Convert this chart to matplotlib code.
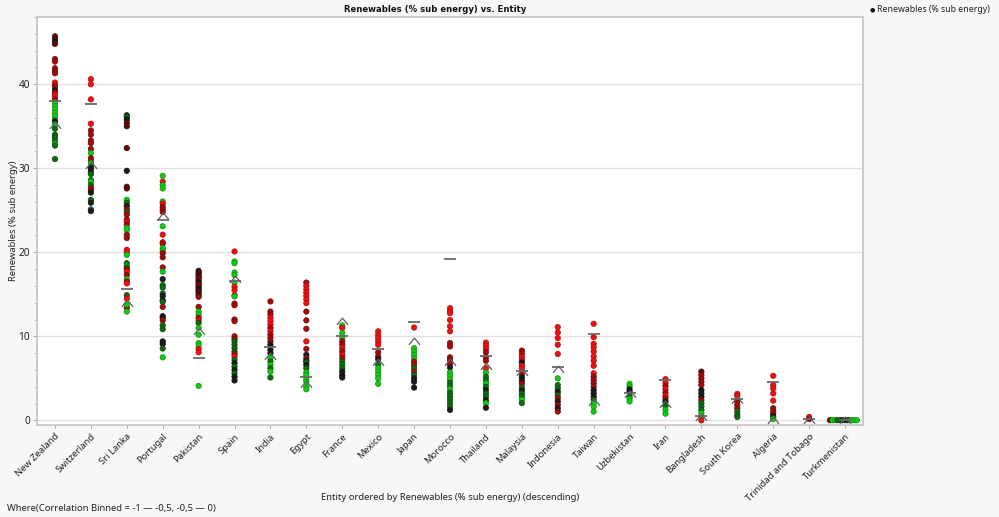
import numpy as np
import matplotlib
matplotlib.use("Agg")
import matplotlib.pyplot as plt
from matplotlib.path import Path
from matplotlib.ticker import MultipleLocator
from matplotlib.colors import to_rgb

plt.rcParams['font.family'] = ['Noto Sans', 'DejaVu Sans']

entities = ["New Zealand", "Switzerland", "Sri Lanka", "Portugal", "Pakistan", "Spain",
            "India", "Egypt", "France", "Mexico", "Japan", "Morocco", "Thailand",
            "Malaysia", "Indonesia", "Taiwan", "Uzbekistan", "Iran", "Bangladesh",
            "South Korea", "Algeria", "Trinidad and Tobago", "Turkmenistan"]

nz_vals = [45.7, 45.4, 45.1, 44.8, 43.0, 42.7, 41.9, 41.6, 41.3, 40.2, 39.9, 39.7, 39.3, 39.0,
           38.75, 38.5, 38.2, 37.8, 37.4, 37.0, 36.6, 36.2, 35.8, 35.6, 35.2, 34.7, 34.0, 33.8,
           33.6, 33.2, 32.9, 32.7, 31.1]
nz_cols = "ddkdrrrrrRRrkrRRrGGGGGGkGgggggGgg"
ch_vals = [40.6, 40.0, 38.2, 35.3, 34.5, 34.0, 33.3, 33.0, 32.3, 31.8, 31.2, 30.9, 30.6, 30.2,
           30.0, 29.6, 29.3, 28.6, 28.4, 28.0, 27.6, 27.3, 27.1, 26.25, 25.9, 25.1, 24.9]
ch_cols = "RRRRrrrrrGrrGgkkggGgrrkgkgk"
lk_vals = [36.3, 36.1, 35.8, 35.4, 35.0, 32.4, 29.7, 27.8, 27.6, 26.25, 25.9, 25.5, 25.1, 24.8,
           24.5, 23.9, 23.6, 23.3, 22.9, 22.7, 22.1, 21.7, 20.3, 20.0, 19.7, 18.7, 18.4, 18.2,
           18.0, 17.7, 17.3, 16.8, 16.5, 16.3, 14.9, 14.5, 13.4, 12.95, 13.8]
lk_cols = "kgkdddkddGgkrgrrRrGGrrRRGgGgrRrGrRgRrGG"
pt_vals = [29.1, 28.4, 28.0, 27.6, 26.05, 25.8, 25.4, 25.1, 24.8, 23.1, 22.1, 21.2, 21.0, 20.5,
           20.2, 19.9, 19.4, 18.2, 17.7, 16.8, 16.1, 15.8, 15.1, 14.8, 14.3, 14.1, 13.5, 12.4,
           12.2, 11.9, 11.3, 10.85, 9.4, 9.1, 8.55, 7.5]
pt_cols = "GRGGGRrrrGRRrGGrrrGkgggkkgrkkrggkkgG"
pk_vals = [17.8, 17.6, 17.4, 17.2, 17.0, 16.8, 16.6, 16.4, 16.2, 16.0, 15.8, 15.6, 15.4, 15.2,
           14.9, 14.7, 13.5, 12.95, 12.6, 12.2, 11.9, 11.6, 11.0, 10.2, 9.2, 8.9, 8.5, 8.1, 4.1]
pk_cols = "kddkdrdkdrdkddkrrGGrRgGGGGRRG"
es_vals = [20.1, 18.9, 18.7, 17.6, 17.3, 16.4, 15.9, 15.5, 14.9, 14.75, 13.9, 13.7, 12.0, 11.8,
           10.0, 9.7, 9.4, 9.0, 8.6, 8.2, 7.9, 7.6, 7.2, 6.8, 6.4, 6.0, 5.6, 5.2, 4.75]
es_cols = "RGGGGGRRRGrrrrrrggggrRgkgkgkk"
in_vals = [14.15, 12.95, 12.6, 12.2, 11.8, 11.4, 11.0, 10.6, 10.2, 9.8, 9.4, 9.0, 8.4, 8.0,
           7.4, 7.0, 6.6, 6.2, 5.8, 5.1]
in_cols = "rrrRRRrRrrrkkkGgGgGg"
eg_vals = [16.4, 16.0, 15.6, 15.2, 14.8, 14.4, 13.95, 12.95, 11.9, 10.9, 9.4, 8.5, 7.8, 7.4,
           7.1, 6.9, 6.6, 6.2, 5.7, 5.4, 4.9, 4.6, 4.0, 3.7]
eg_cols = "rRRRRRRrrrRrkrkgkgGGGGGG"
fr_vals = [11.3, 11.0, 10.4, 9.8, 9.4, 9.0, 8.6, 8.2, 7.8, 7.4, 7.0, 6.6, 6.2, 5.8, 5.4, 5.1]
fr_cols = "GRGGrrRrRrgggkkk"
mx_vals = [10.6, 10.2, 9.8, 9.4, 9.0, 8.1, 7.6, 7.3, 6.6, 6.2, 5.8, 5.4, 5.0, 4.35]
mx_cols = "RRRRRrrkgGGGGG"
jp_vals = [11.05, 8.6, 8.2, 7.8, 7.4, 7.0, 6.6, 6.2, 5.8, 5.4, 5.0, 4.6, 3.9]
jp_cols = "RGGGGrrgrgkkk"
ma_vals = [13.35, 13.0, 12.75, 11.95, 11.2, 10.6, 9.2, 8.8, 7.5, 7.2, 6.7, 6.3, 5.7, 5.3, 4.9,
           4.5, 4.1, 3.7, 3.3, 2.9, 2.5, 2.1, 1.7, 1.25]
ma_cols = "RRRRRRrrrrrkGGGggGgggggk"
th_vals = [9.25, 8.9, 8.5, 8.1, 7.5, 7.1, 6.2, 5.7, 5.2, 4.8, 4.4, 4.0, 3.6, 3.2, 2.8, 2.4,
           2.05, 1.5]
th_cols = "RRRrrrRGggGgkggkGk"
my_vals = [8.3, 7.9, 7.5, 7.2, 6.9, 6.5, 6.2, 5.5, 5.1, 4.7, 4.35, 3.9, 3.55, 3.2, 2.85, 2.45, 2.05]
my_cols = "rrRRkRRrkkrgkggGg"
id_vals = [11.1, 10.45, 9.8, 9.0, 7.9, 5.0, 4.2, 3.8, 3.4, 3.0, 2.65, 2.25, 1.85, 1.45, 1.05]
id_cols = "RRRRRGggkgrkrkr"
tw_vals = [11.5, 9.9, 9.1, 8.7, 8.2, 7.6, 7.1, 6.5, 5.6, 5.2, 4.8, 4.4, 4.0, 3.6, 3.2, 2.8,
           2.45, 2.0, 1.65, 1.05]
tw_cols = "RRRRRRRRRrrrrkkkgGGG"
uz_vals = [4.35, 4.05, 3.7, 3.4, 2.85, 2.55, 2.25]
uz_cols = "GGkkgGG"
ir_vals = [4.9, 4.5, 4.1, 3.7, 3.3, 2.9, 2.6, 2.25, 1.7, 1.25, 0.8]
ir_cols = "RRrRrRrkgGG"
bd_vals = [5.8, 5.4, 5.0, 4.6, 4.2, 3.6, 3.2, 2.8, 2.4, 2.05, 1.65, 1.25, 0.85, 0.5, 0.0]
bd_cols = "drrrrkkkrgggGGR"
kr_vals = [3.15, 2.9, 2.25, 1.85, 1.45, 1.05, 0.65, 0.4]
kr_cols = "RRrrrggg"
dz_vals = [5.3, 4.2, 3.8, 3.2, 2.35, 1.45, 1.05, 0.75, 0.5, 0.3, 0.15]
dz_cols = "RRRRRrrrkgG"
tt_vals = [0.4, 0.15]
tt_cols = "Rr"
tm_vals = [0.02, 0.02, 0.02, 0.02, 0.02, 0.02, 0.02, 0.02, 0.02, 0.02, 0.02, 0.02]
tm_cols = "dGGggkgkgGGG"

all_vals = [nz_vals, ch_vals, lk_vals, pt_vals, pk_vals, es_vals, in_vals, eg_vals, fr_vals,
            mx_vals, jp_vals, ma_vals, th_vals, my_vals, id_vals, tw_vals, uz_vals, ir_vals,
            bd_vals, kr_vals, dz_vals, tt_vals, tm_vals]
all_cols = [nz_cols, ch_cols, lk_cols, pt_cols, pk_cols, es_cols, in_cols, eg_cols, fr_cols,
            mx_cols, jp_cols, ma_cols, th_cols, my_cols, id_cols, tw_cols, uz_cols, ir_cols,
            bd_cols, kr_cols, dz_cols, tt_cols, tm_cols]

# summary markers per entity
dash_vals = [37.95, 37.6, 15.6, 23.8, 7.45, 16.6, 8.7, 5.2, 10.05, 8.5, 11.7, 19.2, 7.7, 5.9,
             6.3, 10.3, 3.3, 4.8, 0.5, 2.6, 4.55, 0.2, 0.05]
caret_vals = [35.2, 30.4, 14.0, 24.35, 10.6, 16.8, 7.7, 4.35, 11.8, 7.0, 9.4, 6.9, 6.5, 5.8,
              6.1, 2.2, 3.1, 1.95, 0.4, 2.45, 0.05, 0.0, 0.0]

palette = {'R': '#f01010', 'r': '#a00c0c', 'd': '#5c0b0b', 'k': '#1c1a1a',
           'g': '#0f6a12', 'G': '#14c814'}

fig = plt.figure(figsize=(9.99, 5.17), dpi=100, facecolor='#f7f7f7')
ax = fig.add_axes([37/999, 1 - 425/517, (863 - 37)/999, (425 - 17)/517])
ax.set_facecolor('white')

for i, (vals, cols) in enumerate(zip(all_vals, all_cols)):
    vals = np.asarray(vals, dtype=float)
    n = len(vals)
    if n > 3 and np.ptp(vals) < 0.3:
        offs = np.linspace(-0.42, 0.33, n)
    else:
        offs = np.zeros(n)
    fcs = [palette[c] for c in cols]
    ecs = [tuple(0.72 * np.array(to_rgb(palette[c]))) for c in cols]
    ax.scatter(i + offs, vals, s=15, c=fcs, edgecolors=ecs, linewidths=0.5, zorder=3)

xs = np.arange(len(entities))
ax.plot(xs, dash_vals, linestyle='none', marker='_', markersize=8, mew=1.3,
        color='#6a6a6a', zorder=4)
caret = Path([(-1.0, -0.6), (0.0, 0.6), (1.0, -0.6)],
             [Path.MOVETO, Path.LINETO, Path.LINETO])
ax.plot(xs, caret_vals, linestyle='none', marker=caret, markersize=8, mew=0.9,
        markerfacecolor='none', markeredgecolor='#606060', zorder=4)

ax.set_xlim(-0.5, len(entities) - 0.5)
ax.set_ylim(-0.55, 48.0)
ax.yaxis.set_major_locator(MultipleLocator(10))
ax.yaxis.set_minor_locator(MultipleLocator(2))
ax.grid(axis='y', which='major', color='#e2e2e2', linewidth=1.0, zorder=0)
ax.set_axisbelow(True)
ax.set_xticks(xs)
ax.set_xticklabels(entities, rotation=45, ha='right', va='top', rotation_mode='anchor',
                   fontsize=6.8, color='#222222')
ax.tick_params(axis='x', length=2, width=0.6, color='#999999', pad=3)
ax.tick_params(axis='y', which='major', length=3, width=0.6, color='#999999',
               labelsize=7.2, labelcolor='#222222', pad=2)
ax.tick_params(axis='y', which='minor', length=2, width=0.5, color='#aaaaaa')
for sp in ax.spines.values():
    sp.set_color('#c8c8c8')
    sp.set_linewidth(1.3)

fig.text(14/999, 1 - 221/517, "Renewables (% sub energy)", rotation=90, ha='center',
         va='center', fontsize=6.8, color='#222222')
fig.text(450/999, 1 - 497/517, "Entity ordered by Renewables (% sub energy) (descending)",
         ha='center', va='center', fontsize=6.8, color='#222222')
fig.text(435/999, 1 - 10/517, "Renewables (% sub energy) vs. Entity", ha='center',
         va='center', fontsize=6.1, fontweight='bold', color='#111111',
         family=['DejaVu Sans'])
fig.text(7/999, 1 - 509/517, "Where(Correlation Binned = -1 \u2014 -0,5, -0,5 \u2014 0)",
         ha='left', va='center', fontsize=6.8, color='#222222')
fig.text(872/999, 1 - 10/517, "\u25cf", ha='center', va='center', fontsize=4.5, color='#111111',
         family=['DejaVu Sans'])
fig.text(877/999, 1 - 10/517, "Renewables (% sub energy)", ha='left', va='center',
         fontsize=6.3, color='#222222')

fig.savefig("out.png", dpi=100, facecolor=fig.get_facecolor())
